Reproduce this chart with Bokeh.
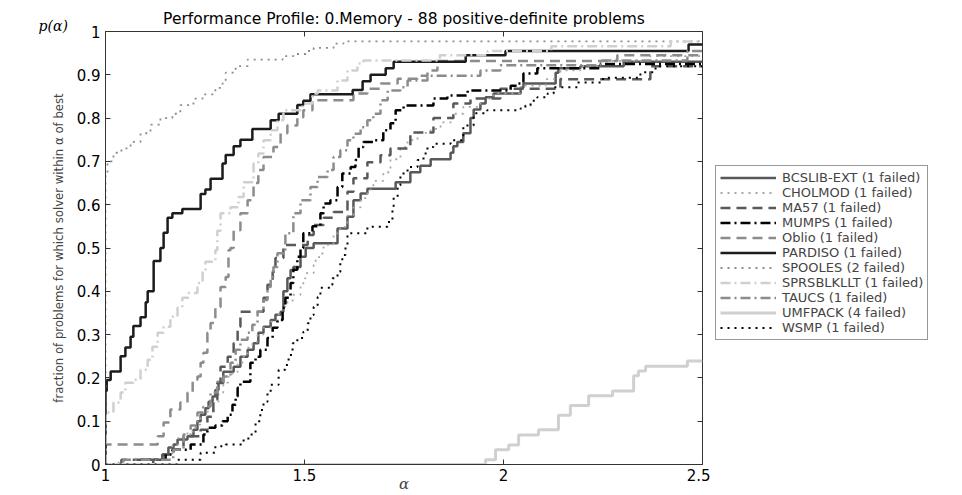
from bokeh.plotting import figure
from bokeh.layouts import row
from bokeh.models import FixedTicker, LinearAxis, Legend, LegendItem, Range1d, Title
from bokeh.embed import file_html
from bokeh.resources import INLINE

# ---------------- data ----------------
solvers = ["BCSLIB-EXT", "CHOLMOD", "MA57", "MUMPS", "Oblio", "PARDISO",
           "SPOOLES", "SPRSBLKLLT", "TAUCS", "UMFPACK", "WSMP"]
failed = [1, 1, 1, 1, 1, 1, 2, 1, 1, 4, 1]

xticks = [1, 1.5, 2, 2.5]
xtick_labels = ["1", "1.5", "2", "2.5"]
yticks = [0, 0.1, 0.2, 0.3, 0.4, 0.5, 0.6, 0.7, 0.8, 0.9, 1]
ytick_labels = ["0", "0.1", "0.2", "0.3", "0.4", "0.5", "0.6", "0.7", "0.8", "0.9", "1"]

bcslib_a = [1.0, 1.12, 1.143, 1.158, 1.171, 1.181, 1.206, 1.221, 1.231, 1.239, 1.251, 1.259, 1.269,
            1.276, 1.284, 1.296, 1.322, 1.339, 1.357, 1.372, 1.384, 1.397, 1.415, 1.427, 1.440, 1.447,
            1.457, 1.465, 1.472, 1.490, 1.503, 1.523, 1.583, 1.608, 1.623, 1.641, 1.658, 1.729, 1.766,
            1.791, 1.817, 1.867, 1.874, 1.884, 1.899, 1.917, 1.925, 1.942, 1.955, 1.975, 2.043, 2.050,
            2.131, 2.138, 2.193, 2.302]
bcslib_p = [0.0, 0.011, 0.023, 0.039, 0.046, 0.058, 0.065, 0.08, 0.1, 0.115, 0.13, 0.145, 0.157,
            0.172, 0.188, 0.214, 0.226, 0.249, 0.265, 0.28, 0.304, 0.318, 0.334, 0.346, 0.353, 0.4,
            0.43, 0.449, 0.456, 0.48, 0.5, 0.511, 0.545, 0.572, 0.61, 0.626, 0.637, 0.652, 0.675,
            0.69, 0.705, 0.72, 0.735, 0.745, 0.765, 0.8, 0.82, 0.834, 0.848, 0.857, 0.87, 0.88,
            0.905, 0.915, 0.92, 0.93]

cholmod_a = [1.0, 1.033, 1.15, 1.168, 1.183, 1.206, 1.226, 1.239, 1.256, 1.271, 1.284, 1.296, 1.309,
             1.319, 1.332, 1.344, 1.357, 1.369, 1.382, 1.397, 1.415, 1.432, 1.445, 1.457, 1.470, 1.490,
             1.497, 1.503, 1.523, 1.528, 1.545, 1.548, 1.565, 1.573, 1.590, 1.608, 1.623, 1.641, 1.658,
             1.673, 1.698, 1.716, 1.741, 1.759, 1.784, 1.817, 1.842, 1.874, 1.899, 1.942, 1.975, 2.043,
             2.106, 2.143, 2.193, 2.244, 2.369]
cholmod_p = [0.0, 0.011, 0.023, 0.046, 0.065, 0.076, 0.092, 0.108, 0.122, 0.145, 0.166, 0.189, 0.203,
             0.214, 0.235, 0.249, 0.27, 0.283, 0.3, 0.316, 0.33, 0.346, 0.364, 0.376, 0.392, 0.415,
             0.43, 0.442, 0.461, 0.479, 0.495, 0.507, 0.51, 0.534, 0.549, 0.575, 0.594, 0.615, 0.635,
             0.655, 0.675, 0.705, 0.733, 0.749, 0.766, 0.775, 0.79, 0.81, 0.826, 0.845, 0.857, 0.875,
             0.89, 0.91, 0.92, 0.932, 0.943]

ma57_a = [1.0, 1.040, 1.143, 1.171, 1.196, 1.239, 1.256, 1.271, 1.281, 1.289, 1.307, 1.322, 1.332,
          1.339, 1.397, 1.407, 1.420, 1.427, 1.447, 1.508, 1.523, 1.548, 1.573, 1.608, 1.623, 1.658,
          1.691, 1.716, 1.766, 1.824, 1.874, 1.917, 1.992, 2.143, 2.369]
ma57_p = [0.0, 0.011, 0.023, 0.034, 0.065, 0.08, 0.11, 0.15, 0.189, 0.226, 0.249, 0.28, 0.318,
          0.353, 0.385, 0.415, 0.445, 0.477, 0.507, 0.53, 0.553, 0.57, 0.583, 0.63, 0.661, 0.698,
          0.714, 0.73, 0.767, 0.8, 0.834, 0.845, 0.868, 0.89, 0.92]

mumps_a = [1.0, 1.088, 1.151, 1.168, 1.214, 1.246, 1.256, 1.276, 1.294, 1.307, 1.319, 1.327, 1.332,
           1.339, 1.364, 1.377, 1.389, 1.407, 1.420, 1.432, 1.445, 1.452, 1.465, 1.472, 1.482, 1.490,
           1.497, 1.520, 1.540, 1.548, 1.565, 1.583, 1.595, 1.616, 1.628, 1.636, 1.648, 1.673, 1.698,
           1.716, 1.729, 1.749, 1.824, 1.859, 1.910, 2.018, 2.035, 2.050, 2.085, 2.244]
mumps_p = [0.0, 0.011, 0.023, 0.034, 0.046, 0.069, 0.085, 0.09, 0.1, 0.115, 0.138, 0.157, 0.177,
           0.191, 0.235, 0.249, 0.265, 0.292, 0.316, 0.334, 0.362, 0.385, 0.419, 0.45, 0.48, 0.5,
           0.534, 0.55, 0.58, 0.603, 0.61, 0.641, 0.672, 0.687, 0.703, 0.733, 0.745, 0.749, 0.772,
           0.788, 0.818, 0.829, 0.845, 0.852, 0.864, 0.875, 0.88, 0.903, 0.915, 0.925]

oblio_a = [1.0, 1.0, 1.131, 1.146, 1.163, 1.188, 1.206, 1.219, 1.231, 1.239, 1.246, 1.256, 1.264,
           1.276, 1.289, 1.302, 1.309, 1.314, 1.322, 1.339, 1.357, 1.372, 1.384, 1.397, 1.422, 1.440,
           1.457, 1.482, 1.497, 1.520, 1.623, 1.658, 1.691, 1.734, 1.784, 1.809, 1.834, 2.286]
oblio_p = [0.0, 0.046, 0.065, 0.097, 0.127, 0.143, 0.166, 0.196, 0.203, 0.235, 0.258, 0.304, 0.327,
           0.364, 0.41, 0.433, 0.495, 0.5, 0.541, 0.58, 0.61, 0.65, 0.68, 0.71, 0.733, 0.765,
           0.783, 0.802, 0.818, 0.841, 0.857, 0.868, 0.88, 0.891, 0.898, 0.91, 0.932, 0.945]

pardiso_a = [1.0, 1.0, 1.003, 1.013, 1.038, 1.05, 1.063, 1.07, 1.088, 1.101, 1.106, 1.121, 1.138,
             1.146, 1.156, 1.168, 1.193, 1.239, 1.251, 1.264, 1.294, 1.302, 1.322, 1.339, 1.369, 1.415,
             1.435, 1.482, 1.497, 1.515, 1.621, 1.646, 1.666, 1.704, 1.724, 1.905, 2.005, 2.465]
pardiso_p = [0.0, 0.17, 0.195, 0.215, 0.25, 0.27, 0.295, 0.32, 0.34, 0.375, 0.40, 0.47, 0.50,
             0.535, 0.57, 0.58, 0.59, 0.625, 0.635, 0.66, 0.695, 0.715, 0.735, 0.75, 0.775, 0.795,
             0.81, 0.83, 0.84, 0.855, 0.865, 0.885, 0.90, 0.915, 0.93, 0.945, 0.955, 0.97]

spooles_a = [1.0, 1.0, 1.005, 1.02, 1.04, 1.063, 1.088, 1.113, 1.138, 1.168, 1.188, 1.221, 1.244,
             1.276, 1.294, 1.302, 1.327, 1.357, 1.445, 1.472, 1.503, 1.523, 1.573, 1.598]
spooles_p = [0.0, 0.67, 0.70, 0.72, 0.73, 0.745, 0.765, 0.785, 0.80, 0.81, 0.83, 0.845, 0.855,
             0.87, 0.88, 0.905, 0.92, 0.935, 0.943, 0.948, 0.955, 0.962, 0.972, 0.977]

sprsblkllt_a = [1.0, 1.0, 1.003, 1.02, 1.038, 1.05, 1.07, 1.088, 1.106, 1.118, 1.131, 1.146, 1.163,
                1.181, 1.193, 1.209, 1.231, 1.244, 1.251, 1.276, 1.281, 1.289, 1.314, 1.334, 1.347,
                1.372, 1.384, 1.397, 1.415, 1.432, 1.447, 1.495, 1.52, 1.533, 1.583, 1.608, 1.633,
                1.648, 1.84, 1.96, 2.12, 2.42]
sprsblkllt_p = [0.0, 0.115, 0.12, 0.143, 0.166, 0.189, 0.196, 0.219, 0.242, 0.272, 0.304, 0.318, 0.341,
                0.362, 0.385, 0.396, 0.419, 0.449, 0.468, 0.495, 0.54, 0.58, 0.594, 0.618, 0.652,
                0.695, 0.718, 0.749, 0.772, 0.795, 0.818, 0.834, 0.857, 0.864, 0.887, 0.91, 0.926,
                0.933, 0.945, 0.955, 0.966, 0.977]

taucs_a = [1.0, 1.045, 1.17, 1.196, 1.214, 1.231, 1.246, 1.264, 1.281, 1.296, 1.314, 1.327, 1.339,
           1.357, 1.369, 1.382, 1.397, 1.407, 1.415, 1.422, 1.432, 1.452, 1.472, 1.490, 1.515, 1.533,
           1.558, 1.573, 1.590, 1.608, 1.623, 1.641, 1.658, 1.673, 1.691, 1.709, 1.741, 1.759, 1.809,
           1.942, 1.992, 2.244, 2.462]
taucs_p = [0.0, 0.011, 0.034, 0.069, 0.09, 0.12, 0.134, 0.166, 0.191, 0.203, 0.235, 0.265, 0.288,
           0.304, 0.323, 0.353, 0.38, 0.41, 0.433, 0.456, 0.488, 0.534, 0.58, 0.61, 0.641, 0.664,
           0.68, 0.71, 0.726, 0.749, 0.764, 0.779, 0.795, 0.81, 0.841, 0.864, 0.871, 0.887, 0.898,
           0.91, 0.922, 0.933, 0.955]

umfpack_a = [1.0, 1.955, 1.980, 2.013, 2.038, 2.088, 2.138, 2.168, 2.214, 2.274, 2.327, 2.339,
             2.357, 2.462]
umfpack_p = [0.0, 0.011, 0.034, 0.045, 0.068, 0.08, 0.114, 0.136, 0.159, 0.17, 0.205, 0.216,
             0.227, 0.239]

wsmp_a = [1.0, 1.181, 1.239, 1.276, 1.302, 1.347, 1.359, 1.377, 1.389, 1.397, 1.407, 1.415, 1.435,
          1.452, 1.460, 1.470, 1.482, 1.497, 1.508, 1.515, 1.523, 1.533, 1.540, 1.565, 1.570, 1.583,
          1.590, 1.595, 1.603, 1.608, 1.658, 1.709, 1.721, 1.724, 1.734, 1.741, 1.759, 1.784, 1.799,
          1.809, 1.824, 1.867, 1.899, 1.925, 1.959, 2.043, 2.055, 2.068, 2.085, 2.111, 2.126, 2.186,
          2.25, 2.344, 2.382]
wsmp_p = [0.0, 0.011, 0.027, 0.042, 0.046, 0.058, 0.069, 0.1, 0.126, 0.145, 0.168, 0.184, 0.219,
          0.23, 0.253, 0.28, 0.292, 0.306, 0.326, 0.345, 0.364, 0.387, 0.408, 0.415, 0.43, 0.445,
          0.465, 0.484, 0.507, 0.534, 0.549, 0.56, 0.595, 0.618, 0.645, 0.672, 0.687, 0.703, 0.718,
          0.733, 0.741, 0.749, 0.783, 0.811, 0.818, 0.822, 0.829, 0.84, 0.848, 0.857, 0.871, 0.882,
          0.893, 0.906, 0.92]

series_a = [bcslib_a, cholmod_a, ma57_a, mumps_a, oblio_a, pardiso_a, spooles_a, sprsblkllt_a,
            taucs_a, umfpack_a, wsmp_a]
series_p = [bcslib_p, cholmod_p, ma57_p, mumps_p, oblio_p, pardiso_p, spooles_p, sprsblkllt_p,
            taucs_p, umfpack_p, wsmp_p]

title_text = "Performance Profile: 0.Memory - 88 positive-definite problems"
ylabel_text = "fraction of problems for which solver within \u03b1 of best"
xlabel_text = "\u03b1"
pa_text = "p(\u03b1)"

# ---------------- styles ----------------
DOT, DASH, DASHDOT = "2 5", "10 6", "10 4 2 4"
colors = ["#595959", "#a6a6a6", "#595959", "#000000", "#8c8c8c", "#1c1c1c",
          "#8c8c8c", "#d0d0d0", "#8c8c8c", "#d0d0d0", "#000000"]
dashes = ["solid", DOT, DASH, DASHDOT, DASH, "solid", DOT, DASHDOT, DASHDOT, "solid", DOT]
widths = [2.5, 1.8, 2.5, 2.5, 2.5, 2.5, 1.8, 2.5, 2.5, 3.0, 2.0]

FONT = "DejaVu Sans"

# ---------------- main chart ----------------
p = figure(width=710, height=495, output_backend="svg", toolbar_location=None,
           x_range=Range1d(1, 2.5), y_range=Range1d(0, 1),
           min_border_left=105, min_border_right=8, min_border_top=31, min_border_bottom=30)
p.grid.visible = False
p.background_fill_color = "white"
p.border_fill_color = "white"
p.outline_line_color = "#333333"
p.outline_line_width = 1

xa = p.xaxis[0]
xa.ticker = FixedTicker(ticks=xticks)
xa.major_label_overrides = dict(zip(xticks, xtick_labels))
xa.axis_label = xlabel_text
xa.axis_label_text_font = "DejaVu Serif"
xa.axis_label_text_font_style = "italic"
xa.axis_label_text_font_size = "15px"
xa.axis_label_standoff = -9
ya = p.yaxis[0]
ya.ticker = FixedTicker(ticks=yticks)
ya.major_label_overrides = dict(zip(yticks, ytick_labels))
ya.axis_label = ylabel_text
ya.axis_label_text_font = "Liberation Sans Narrow, DejaVu Sans Condensed, Liberation Sans"
ya.axis_label_text_font_size = "13px"
ya.axis_label_text_font_style = "normal"
ya.axis_label_standoff = 8
for ax in (xa, ya):
    ax.major_tick_in = 5
    ax.major_tick_out = 0
    ax.minor_tick_in = 0
    ax.minor_tick_out = 0
    ax.axis_line_color = "#333333"
    ax.major_tick_line_color = "#333333"
    ax.major_label_text_font = FONT
    ax.major_label_text_font_size = "15px"
    ax.major_label_text_color = "#000000"
xa.major_label_standoff = 4
ya.major_label_standoff = 5

top = LinearAxis(ticker=FixedTicker(ticks=xticks), major_label_text_font_size="0px",
                 major_label_standoff=0, major_tick_in=5, major_tick_out=0,
                 minor_tick_in=0, minor_tick_out=0, axis_line_color=None,
                 major_tick_line_color="#333333")
right = LinearAxis(ticker=FixedTicker(ticks=yticks), major_label_text_font_size="0px",
                   major_label_standoff=0, major_tick_in=5, major_tick_out=0,
                   minor_tick_in=0, minor_tick_out=0, axis_line_color=None,
                   major_tick_line_color="#333333")
top.major_label_overrides = {t: "" for t in xticks}
right.major_label_overrides = {t: "" for t in yticks}
p.add_layout(top, "above")
p.add_layout(right, "right")

pa_title = Title(text=pa_text, align="left", offset=-67, standoff=-5,
                 text_font="DejaVu Serif", text_font_style="italic", text_font_size="14px",
                 text_color="#000000")
p.add_layout(pa_title, "above")
main_title = Title(text=title_text, align="center", standoff=-18,
                   text_font=FONT, text_font_style="normal", text_font_size="15.5px",
                   text_color="#000000")
p.add_layout(main_title, "above")

for a, pv, c, d, w in zip(series_a, series_p, colors, dashes, widths):
    p.step(list(a) + [2.5], list(pv) + [pv[-1]], mode="after",
           line_color=c, line_dash=d, line_width=w)

# ---------------- legend panel (to the right of the chart) ----------------
q = figure(width=252, height=495, output_backend="svg", toolbar_location=None,
           x_range=Range1d(0, 1), y_range=Range1d(0, 1),
           x_axis_location=None, y_axis_location=None,
           min_border_left=0, min_border_right=0, min_border_top=0, min_border_bottom=0)
q.grid.visible = False
q.outline_line_color = None
q.background_fill_color = "white"
q.border_fill_color = "white"

items = []
for name, nf, a, pv, c, d, w in zip(solvers, failed, series_a, series_p, colors, dashes, widths):
    # legend proxy: the series' first point only (outside this panel's range, draws nothing)
    r = q.step(a[:1], pv[:1], mode="after", line_color=c, line_dash=d, line_width=w)
    items.append(LegendItem(label=f"{name} ({nf} failed)", renderers=[r]))

legend = Legend(items=items, location=(5, 124))
legend.label_text_font = FONT
legend.label_text_font_size = "13px"
legend.label_height = 15
legend.glyph_height = 15
legend.glyph_width = 56
legend.label_standoff = 6
legend.spacing = 0
legend.padding = 4
legend.margin = 0
legend.border_line_color = "#333333"
legend.border_line_width = 1
legend.background_fill_color = "white"
legend.background_fill_alpha = 1
q.add_layout(legend)

layout = row(p, q, spacing=0)
open("out.html", "w").write(file_html(layout, INLINE))
